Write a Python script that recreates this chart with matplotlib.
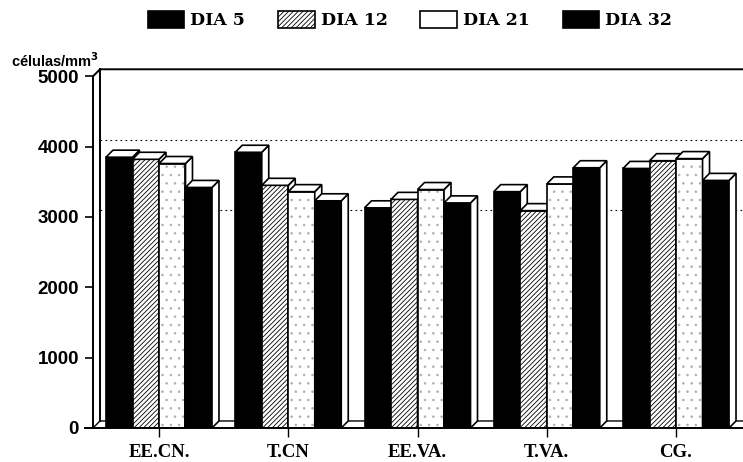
import numpy as np
import matplotlib.pyplot as plt
from matplotlib.patches import Polygon

groups = ['EE.CN.', 'T.CN', 'EE.VA.', 'T.VA.', 'CG.']
series = ['DIA 5', 'DIA 12', 'DIA 21', 'DIA 32']
dia5 = [3850, 3920, 3130, 3360, 3690]
dia12 = [3820, 3450, 3250, 3090, 3800]
dia21 = [3760, 3360, 3390, 3470, 3830]
dia32 = [3420, 3230, 3200, 3700, 3520]
yticks = [0, 1000, 2000, 3000, 4000, 5000]
grid_levels = [3000, 4000]

plt.rcParams['hatch.linewidth'] = 0.6

fig = plt.figure(figsize=(7.43, 4.62), dpi=100)
ax = fig.add_axes([93 / 743, 34 / 462, 650 / 743, 368 / 462])
L, R = -0.5106, 4.518
ax.set_xlim(L, R)
ax.set_ylim(0, 5232)
for s in ax.spines.values():
    s.set_visible(False)

dx, dy = 0.054, 100
w = 0.205
lw = 1.2
x = np.arange(len(groups))

# walls, floor and back grid
ax.plot([L, L, L + dx, R], [0, 5000, 5000 + dy, 5000 + dy], color='black', lw=1.4, clip_on=False, zorder=2)
ax.plot([L + dx, L + dx], [dy, 5000 + dy], color='black', lw=1.4, zorder=2)
ax.plot([L, L + dx, R], [0, dy, dy], color='black', lw=1.0, zorder=1)
ax.plot([L - 0.06, R], [0, 0], color='black', lw=1.4, clip_on=False, zorder=6)
for g in grid_levels:
    ax.plot([L + dx, R], [g + dy, g + dy], color='black', lw=0.8, ls=(0, (1.5, 3)), zorder=1)

styles = [
    dict(fc='black', hatch=None, stipple=False),
    dict(fc='white', hatch='///////', stipple=False),
    dict(fc='none', hatch=None, stipple=True),
    dict(fc='black', hatch=None, stipple=False),
]

handles = []
for j, (vals, st) in enumerate(zip([dia5, dia12, dia21, dia32], styles)):
    xs = x + (j - 1.5) * w
    z = 3 + j * 0.1
    if st['stipple']:
        ax.bar(xs, vals, w, color='white', hatch='..', edgecolor='#b0b0b0', lw=0, zorder=z)
    bars = ax.bar(xs, vals, w, facecolor=st['fc'], edgecolor='black', hatch=st['hatch'],
                  lw=lw, zorder=z, label=series[j])
    handles.append(bars)
    for b in bars:
        xl = b.get_x()
        xr = xl + b.get_width()
        h = b.get_height()
        top = Polygon([(xl, h), (xl + dx, h + dy), (xr + dx, h + dy), (xr, h)],
                      closed=True, fc='white', ec='black', lw=lw, zorder=z)
        side = Polygon([(xr, 0), (xr, h), (xr + dx, h + dy), (xr + dx, dy)],
                       closed=True, fc='white', ec='black', lw=lw, zorder=z)
        ax.add_patch(side)
        ax.add_patch(top)

ax.set_yticks(yticks)
ax.set_yticklabels([str(v) for v in yticks])
ax.set_xticks(x)
ax.set_xticklabels(groups)
ax.tick_params(axis='y', length=6, width=1.2, pad=4)
ax.tick_params(axis='x', length=6.5, width=1.0, pad=5)
for lbl in ax.get_yticklabels():
    lbl.set_fontfamily('Liberation Sans')
    lbl.set_fontweight('bold')
    lbl.set_fontsize(13.5)
for lbl in ax.get_xticklabels():
    lbl.set_fontfamily('Liberation Serif')
    lbl.set_fontweight('bold')
    lbl.set_fontsize(13.5)

fig.text(11 / 743, 1 - 70 / 462, 'células/mm$^{\\mathbf{3}}$', fontfamily='Liberation Sans',
         fontweight='bold', fontsize=10.5, va='bottom', ha='left')

fig.legend(handles, series, loc='center', bbox_to_anchor=(410 / 743, 1 - 20 / 462), ncol=4,
           frameon=False, prop={'family': 'DejaVu Serif', 'weight': 'bold', 'size': 12.5},
           handlelength=2.1, handleheight=1.1, handletextpad=0.35, columnspacing=1.9)

fig.savefig('out.png', dpi=100)
